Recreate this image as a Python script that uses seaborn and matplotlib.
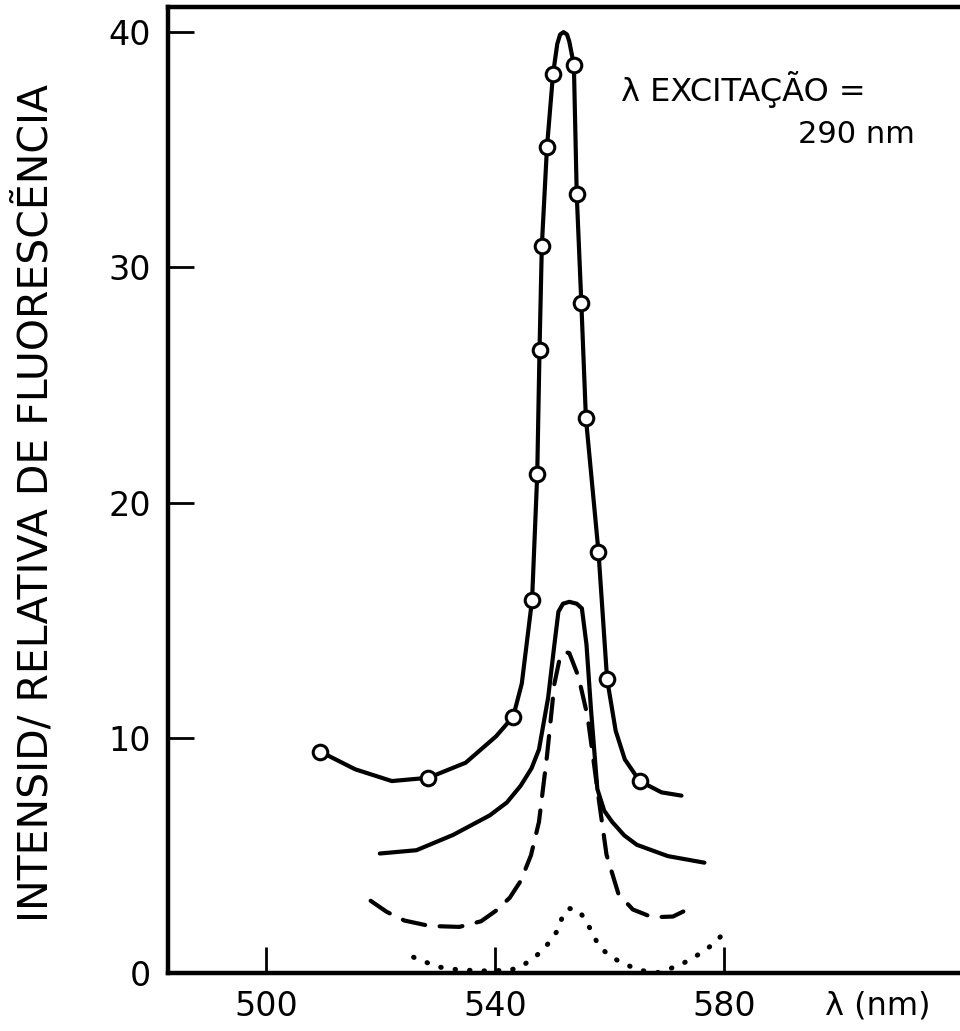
import matplotlib
matplotlib.use("Agg")
import matplotlib.pyplot as plt
import seaborn as sns

# curve with open circles: line through the circles plus the bends
c1_x = [509.4, 515.5, 521.9, 528.3, 534.8, 540.1, 543.1, 544.6, 546.4, 547.3, 547.7, 548.1, 549.0,
        550.05, 550.8, 551.3, 551.9, 552.5, 552.9, 553.7, 554.2, 555.0, 555.8, 558.0, 559.5,
        561.0, 562.6, 565.2, 569.0, 572.5]
c1_y = [9.41, 8.66, 8.16, 8.30, 8.94, 10.06, 10.9, 12.3, 15.87, 21.2, 26.5, 30.9, 35.1,
        38.2, 39.5, 39.9, 40.0, 39.9, 39.6, 38.6, 33.1, 28.5, 23.6, 17.9, 12.5,
        10.3, 9.08, 8.16, 7.68, 7.54]

# measured points (open circles)
pts_x = [509.4, 528.3, 543.1, 546.4, 547.3, 547.7, 548.1, 549.0, 550.05, 553.7, 554.2, 555.0,
         555.8, 558.0, 559.5, 565.2]
pts_y = [9.41, 8.30, 10.9, 15.87, 21.2, 26.5, 30.9, 35.1, 38.2, 38.6, 33.1, 28.5,
         23.6, 17.9, 12.5, 8.16]

# second solid curve
c2_x = [519.8, 526.2, 532.6, 539.0, 542.0, 544.4, 546.3, 547.6, 549.2, 550.3, 551.0, 551.8,
        552.9, 554.2, 555.1, 555.9, 556.7, 557.8, 559.0, 560.4, 562.5, 564.7, 570.1, 576.5]
c2_y = [5.08, 5.22, 5.87, 6.70, 7.25, 7.96, 8.7, 9.50, 11.7, 13.97, 15.36, 15.7,
        15.78, 15.7, 15.5, 13.97, 11.17, 7.82, 6.9, 6.42, 5.85, 5.45, 4.97, 4.69]

# dashed curve
c3_x = [518.2, 521.0, 524.1, 528.5, 533.7, 537.5, 540.1, 542.5, 544.4, 546.2, 547.6, 549.0,
        550.3, 551.3, 552.2, 552.9, 554.5, 556.1, 557.8, 559.4, 561.5, 564.0, 567.4, 571.0,
        574.3]
c3_y = [3.07, 2.6, 2.23, 2.0, 1.96, 2.2, 2.65, 3.2, 3.91, 5.0, 6.42, 9.22,
        12.3, 13.46, 13.65, 13.6, 12.6, 10.9, 7.82, 5.03, 3.35, 2.7, 2.37, 2.4,
        2.79]

# dotted curve
c4_x = [525.7, 529.8, 532.5, 535.2, 537.4, 539.7, 541.9, 544.2, 546.4, 548.3, 549.6, 551.0,
        551.6, 552.8, 554.6, 555.9, 556.8, 557.7, 558.6, 560.4, 562.2, 564.0, 566.3, 568.6,
        569.9, 572.2, 574.4, 577.1, 578.9, 580.3]
c4_y = [0.67, 0.27, 0.16, 0.12, 0.08, 0.12, 0.08, 0.24, 0.58, 0.98, 1.37, 1.86,
        2.33, 2.75, 2.65, 2.18, 1.76, 1.33, 1.01, 0.67, 0.41, 0.24, 0.06, 0.02,
        0.13, 0.34, 0.62, 1.05, 1.43, 1.83]

x_ticks = [500, 540, 580]
y_ticks = [0, 10, 20, 30, 40]

sns.set_style("ticks")
plt.rcParams["font.family"] = ["DejaVu Sans"]
plt.rcParams["text.color"] = "black"
plt.rcParams["xtick.color"] = "black"
plt.rcParams["ytick.color"] = "black"
plt.rcParams["axes.labelcolor"] = "black"

fig = plt.figure(figsize=(9.6, 10.31), dpi=100)
ax = fig.add_axes([0.175, 0.05626, 0.825, 0.937])

sns.lineplot(x=c1_x, y=c1_y, ax=ax, color="black", linewidth=3, sort=False)
sns.lineplot(x=c2_x, y=c2_y, ax=ax, color="black", linewidth=3, sort=False)
sns.lineplot(x=c3_x, y=c3_y, ax=ax, color="black", linewidth=3, sort=False,
             linestyle=(0, (5.5, 3.5)), dash_capstyle="round")
sns.lineplot(x=c4_x, y=c4_y, ax=ax, color="black", linewidth=3.6, sort=False,
             linestyle=(0, (0.1, 2.8)), dash_capstyle="round")
sns.scatterplot(x=pts_x, y=pts_y, ax=ax, marker="o", s=110, color="white",
                edgecolor="black", linewidth=2.2, zorder=5)

ax.set_xlim(482.8, 621.15)
ax.set_ylim(0, 41.07)
ax.set_xticks(x_ticks)
ax.set_yticks(y_ticks)
ax.tick_params(axis="both", direction="in", length=19, width=2, labelsize=24,
               color="black", labelcolor="black")
ax.tick_params(axis="x", pad=12)
ax.tick_params(axis="y", pad=12)

for side in ["left", "bottom", "top"]:
    ax.spines[side].set_linewidth(3.2)
    ax.spines[side].set_color("black")
ax.spines["right"].set_visible(False)

fig.text(0.0375, 0.512, "INTENSID/ RELATIVA DE FLUORESCẼNCIA", rotation=90,
         ha="center", va="center", fontsize=29.5)
ax.text(0.8965, -0.034, "λ (nm)", transform=ax.transAxes, ha="center", va="center",
        fontsize=23)
ax.text(0.572, 0.915, "λ EXCITAÇÃO =", transform=ax.transAxes, ha="left", va="center",
        fontsize=23)
ax.text(0.943, 0.8675, "290 nm", transform=ax.transAxes, ha="right", va="center",
        fontsize=22)

fig.savefig("out.png", dpi=100)
